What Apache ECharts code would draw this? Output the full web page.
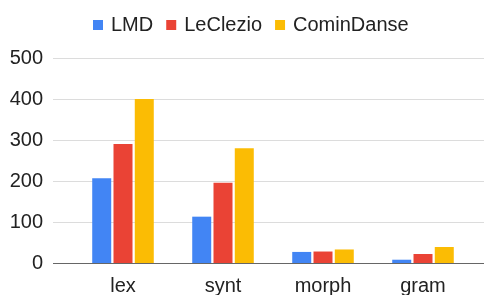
<!DOCTYPE html>
<html>
<head>
<meta charset="UTF-8">
<script src="https://cdn.jsdelivr.net/npm/echarts@6/dist/echarts.min.js"></script>
<style>
    html, body { margin: 0; padding: 0; background: #fff; }
    #container { width: 484px; height: 295px; }
</style>
</head>
<body>
<div id="container"></div>
<script type="text/javascript">
    const categories = ['lex', 'synt', 'morph', 'gram'];
    const lmd = [207, 113, 27, 8];
    const leClezio = [290, 196, 28, 22];
    const cominDanse = [400, 280, 33, 39];
    const yTicks = [0, 100, 200, 300, 400, 500];

    const chart = echarts.init(document.getElementById('container'), null, { renderer: 'canvas' });
    const font = 'Arial, "Liberation Sans", sans-serif';

    const option = {
        animation: false,
        color: ['#4285F4', '#EA4335', '#FBBC04'],
        legend: {
            top: 10,
            left: 88,
            itemWidth: 10,
            itemHeight: 10,
            itemGap: 13,
            icon: 'rect',
            textStyle: { fontSize: 20, color: '#222', fontFamily: font, padding: [0, 0, 0, 3] }
        },
        grid: [
            // background gridlines, full width
            { left: 53, right: 0, top: 58, bottom: 32, outerBoundsMode: 'none', containLabel: false },
            // bars
            { left: 73, right: 11, top: 58, bottom: 32, outerBoundsMode: 'none', containLabel: false }
        ],
        xAxis: [
            { gridIndex: 0, type: 'value', show: false },
            {
                gridIndex: 1,
                type: 'category',
                data: categories,
                axisLine: { show: false },
                axisTick: { show: false },
                axisLabel: { fontSize: 20, color: '#222', fontFamily: font, margin: 13 }
            }
        ],
        yAxis: [
            {
                gridIndex: 0,
                type: 'value',
                min: 0, max: yTicks[yTicks.length - 1], interval: 100,
                axisLine: { show: false },
                axisTick: { show: false },
                axisLabel: { fontSize: 20, color: '#222', fontFamily: font, margin: 10 },
                splitLine: { lineStyle: { color: '#dcdcdc', width: 1 } }
            },
            {
                gridIndex: 1,
                type: 'value',
                min: 0, max: 500, interval: 100,
                show: false,
                splitLine: { show: false }
            }
        ],
        series: [
            { name: 'LMD', type: 'bar', xAxisIndex: 1, yAxisIndex: 1, data: lmd, barWidth: 19, barGap: '12%' },
            { name: 'LeClezio', type: 'bar', xAxisIndex: 1, yAxisIndex: 1, data: leClezio, barWidth: 19, barGap: '12%' },
            { name: 'CominDanse', type: 'bar', xAxisIndex: 1, yAxisIndex: 1, data: cominDanse, barWidth: 19, barGap: '12%' },
            {
                // baseline at zero
                type: 'line', xAxisIndex: 0, yAxisIndex: 0, data: [], silent: true,
                markLine: {
                    symbol: 'none', silent: true, label: { show: false },
                    lineStyle: { color: '#666', type: 'solid', width: 1 },
                    data: [{ yAxis: 0 }]
                }
            }
        ]
    };

    chart.setOption(option);
    window.addEventListener('resize', chart.resize);
</script>
</body>
</html>
